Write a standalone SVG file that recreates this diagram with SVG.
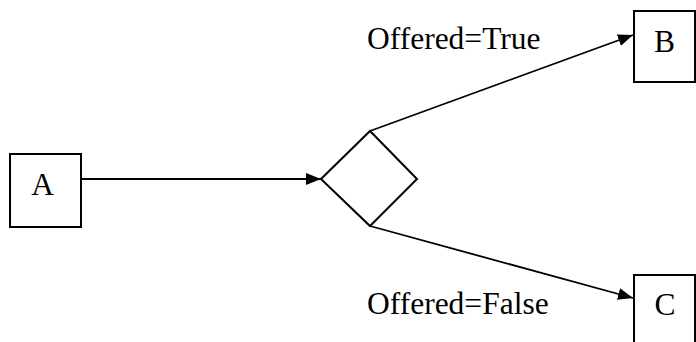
<svg xmlns="http://www.w3.org/2000/svg" width="696" height="342" viewBox="0 0 696 342">
  <style>
    .box { fill: #fff; stroke: #000; stroke-width: 2; }
    .edge { fill: none; stroke: #000; stroke-width: 1.8; }
    .lbl { font-family: "Liberation Serif", "Times New Roman", serif; font-size: 31.5px; fill: #000; }
  </style>
  <defs>
    <marker id="arrow" viewBox="0 0 15 12" refX="15" refY="6" markerWidth="15" markerHeight="12" markerUnits="userSpaceOnUse" orient="auto">
      <path d="M0,0 L15,6 L0,12 Z" fill="#000"/>
    </marker>
  </defs>
  <rect width="696" height="342" fill="#fff"/>

  <g id="connectors">
    <line class="edge" x1="81" y1="179" x2="321" y2="179" marker-end="url(#arrow)"/>
    <line class="edge" x1="370" y1="131" x2="633" y2="35" marker-end="url(#arrow)"/>
    <line class="edge" x1="370" y1="226" x2="633" y2="298" marker-end="url(#arrow)"/>
    <text class="lbl" x="367" y="49">Offered=True</text>
    <text class="lbl" x="367" y="314">Offered=False</text>
  </g>

  <g id="node-a">
    <rect class="box" x="10" y="154" width="71" height="73"/>
    <text class="lbl" x="42.5" y="195" text-anchor="middle">A</text>
  </g>

  <g id="decision">
    <polygon class="box" points="321,179 370,131 417,179 370,226"/>
  </g>

  <g id="node-b">
    <rect class="box" x="634" y="11" width="61" height="71"/>
    <text class="lbl" x="664.5" y="52" text-anchor="middle">B</text>
  </g>

  <g id="node-c">
    <rect class="box" x="634" y="275" width="61" height="80"/>
    <text class="lbl" x="665" y="315" text-anchor="middle">C</text>
  </g>
</svg>
